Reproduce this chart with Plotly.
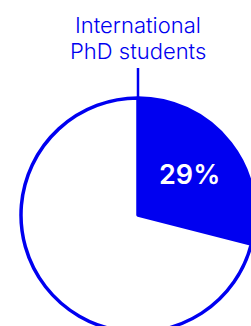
import plotly.graph_objects as go

labels = ["International PhD students", "Other PhD students"]
values = [29, 71]
slice_text = ["29%", ""]
title_lines = ["International", "PhD students"]

BLUE = "rgb(0,0,240)"
W, H = 276, 346

def py(px):
    return (H - px) / H

def pxx(px):
    return px / W

fig = go.Figure(go.Pie(
    labels=labels,
    values=values,
    text=slice_text,
    textinfo="text",
    textposition="inside",
    insidetextorientation="horizontal",
    insidetextfont=dict(color="white", size=27, family="Inter", weight=600),
    marker=dict(colors=[BLUE, "white"], line=dict(color=BLUE, width=3.5)),
    sort=False,
    direction="clockwise",
    rotation=0,
    hole=0,
    showlegend=False,
    hoverinfo="label+percent",
    domain=dict(x=[pxx(138 - 117), pxx(138 + 117)], y=[py(215 + 117), py(215 - 117)]),
))

for line, ypx in zip(title_lines, [25, 51]):
    fig.add_annotation(
        text=line, x=0.5, y=py(ypx), xref="paper", yref="paper",
        xanchor="center", yanchor="middle", showarrow=False,
        font=dict(family="Inter", size=22, color=BLUE, weight=300),
    )
fig.add_shape(type="line", xref="paper", yref="paper",
              x0=0.5, x1=0.5, y0=py(68), y1=py(98),
              line=dict(color=BLUE, width=2.5))

fig.update_layout(
    width=W, height=H,
    margin=dict(l=0, r=0, t=0, b=0),
    paper_bgcolor="white", plot_bgcolor="white",
)

fig.write_html("out.html", config={"displayModeBar": False},
               post_script="document.body.style.margin='0';document.body.style.overflow='hidden';")
